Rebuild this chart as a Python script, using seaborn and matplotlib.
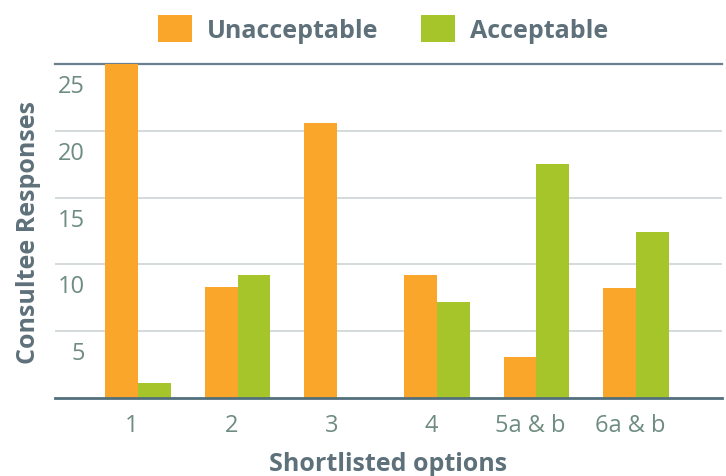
import matplotlib
matplotlib.use("Agg")
import matplotlib.pyplot as plt
import matplotlib.transforms as mtransforms
from matplotlib.patches import Patch
import seaborn as sns
import pandas as pd

options = ["1", "2", "3", "4", "5a & b", "6a & b"]
unacceptable = [25, 8.3, 20.6, 9.2, 3.1, 8.2]
acceptable = [1.1, 9.2, 0, 7.2, 17.5, 12.4]
series_names = ["Unacceptable", "Acceptable"]
y_ticks = [5, 10, 15, 20, 25]

df = pd.DataFrame({
    "option": options * 2,
    "value": unacceptable + acceptable,
    "status": [series_names[0]] * len(options) + [series_names[1]] * len(options),
})

sns.set_theme(style="white")
plt.rcParams["font.family"] = ["Open Sans", "DejaVu Sans"]

ORANGE = "#F9A62A"
GREEN = "#A5C52B"
TEXT = "#5E717B"
TICK = "#6E8C80"

W, H, DPI = 726, 477, 100
fig = plt.figure(figsize=(W / DPI, H / DPI), dpi=DPI)
L, R, B, T = 55, 722, 399, 65
ax = fig.add_axes([L / W, 1 - B / H, (R - L) / W, (B - T) / H])

sns.barplot(data=df, x="option", y="value", hue="status", order=options,
            hue_order=series_names, palette=[ORANGE, GREEN], saturation=1,
            width=0.66, gap=0, linewidth=0, edgecolor="none", ax=ax, zorder=3)

ax.set_xlim(-0.833, 5.863)
ax.set_ylim(0, 25)
ax.set_yticks(y_ticks)
ax.yaxis.grid(True, color="#C9D0D3", linewidth=1.1, zorder=0)
ax.set_axisbelow(True)
for s in ["left", "right"]:
    ax.spines[s].set_visible(False)
ax.spines["top"].set_color("#6A7F8C")
ax.spines["top"].set_linewidth(1.6)
ax.spines["bottom"].set_color("#52707C")
ax.spines["bottom"].set_linewidth(2)
ax.spines["bottom"].set_zorder(5)

ax.tick_params(axis="both", length=0)
ax.tick_params(axis="y", pad=0, labelsize=17, labelcolor=TICK)
ax.tick_params(axis="x", pad=11, labelsize=17, labelcolor=TICK)
off_y = mtransforms.ScaledTranslation(30 / DPI, -19 / DPI, fig.dpi_scale_trans)
for lab in ax.get_yticklabels():
    lab.set_transform(lab.get_transform() + off_y)
off_x = mtransforms.ScaledTranslation(-6 / DPI, 0, fig.dpi_scale_trans)
for lab in ax.get_xticklabels():
    lab.set_transform(lab.get_transform() + off_x)

ax.set_xlabel("Shortlisted options", fontsize=18, fontweight="bold", color=TEXT, labelpad=10)
ax.set_ylabel("Consultee Responses", fontsize=18, fontweight="bold", color=TEXT)
ax.yaxis.set_label_coords(-0.021, 0.5)

if ax.get_legend() is not None:
    ax.get_legend().remove()
handles = [Patch(facecolor=ORANGE, edgecolor="none"), Patch(facecolor=GREEN, edgecolor="none")]
leg = fig.legend(handles, series_names, loc="center", bbox_to_anchor=(383 / W, 1 - 30 / H),
                 ncol=2, frameon=False, prop={"size": 18, "weight": "bold"},
                 handlelength=1.35, handleheight=1.3, handletextpad=0.6, columnspacing=1.7)
for t in leg.get_texts():
    t.set_color(TEXT)

fig.savefig("out.png", dpi=DPI)
